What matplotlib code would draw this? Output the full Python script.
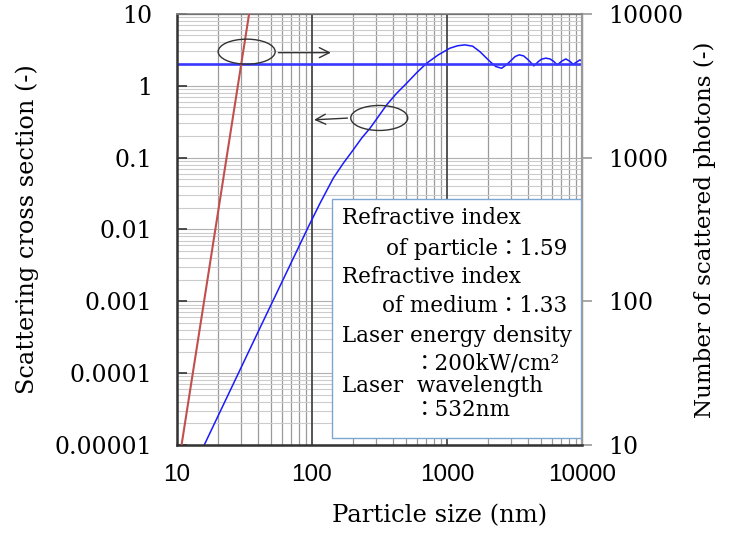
import matplotlib
matplotlib.use('Agg')
import matplotlib.pyplot as plt
from matplotlib.patches import Ellipse, Rectangle, FancyArrowPatch
from matplotlib.transforms import IdentityTransform
from matplotlib.ticker import LogLocator, NullFormatter

# particle size (nm) vs scattering efficiency, left axis
size_nm = [15.9, 41, 94, 114.6, 144, 170.6, 202, 233, 269, 310, 357, 424, 502,
           597, 708, 863, 1052, 1200, 1360, 1550, 1754, 2084, 2300, 2541, 2750,
           2931, 3200, 3436, 3700, 4002, 4406, 4800, 5023, 5400, 5794, 6150,
           6562, 7100, 7600, 8100, 8622, 9200, 9665, 10000]
cross_section = [1e-5, 4.2e-4, 0.0109, 0.0231, 0.052, 0.0834, 0.128, 0.186,
                 0.256, 0.371, 0.54, 0.785, 1.08, 1.52, 2.06, 2.69, 3.33, 3.6,
                 3.70, 3.55, 2.98, 2.17, 1.85, 1.75, 1.95, 2.17, 2.55, 2.69,
                 2.6, 2.29, 1.89, 2.2, 2.34, 2.42, 2.36, 2.2, 1.95, 2.2, 2.36,
                 2.2, 1.99, 2.15, 2.29, 2.2]

# asymptotic value of the cross section
asymptote = 2.0

# number of scattered photons, right axis
photon_size_nm = [10.8, 34.2]
photons = [10, 10000]

left_ticks = [1e-5, 1e-4, 1e-3, 1e-2, 1e-1, 1, 10]
left_labels = ['0.00001', '0.0001', '0.001', '0.01', '0.1', '1', '10']
right_ticks = [10, 100, 1000, 10000]
right_labels = ['10', '100', '1000', '10000']
x_ticks = [10, 100, 1000, 10000]
x_labels = ['10', '100', '1000', '10000']

box_lines = [
    ('Refractive index', 'left'),
    ('of particle\uff1a1.59', 'right'),
    ('Refractive index', 'left'),
    ('of medium\uff1a1.33', 'right'),
    ('Laser energy density', 'left'),
    ('\uff1a200kW/cm\u00b2', 'indent'),
    ('Laser  wavelength', 'left'),
    ('\uff1a532nm', 'indent'),
]

serif = ['DejaVu Serif', 'Noto Sans CJK JP']

fig = plt.figure(figsize=(7.47, 5.33), dpi=100)
ax = fig.add_axes([0.237, 0.165, 0.542, 0.809])
ax2 = ax.twinx()

ax.set_xscale('log')
ax.set_yscale('log')
ax2.set_yscale('log')
ax.set_xlim(10, 10000)
ax.set_ylim(1e-5, 10)
ax2.set_ylim(10, 10000)

ax.yaxis.set_minor_locator(LogLocator(base=10, subs=range(2, 10), numticks=20))
ax.xaxis.set_minor_locator(LogLocator(base=10, subs=range(2, 10), numticks=20))

# grid: light horizontal, gray vertical, dark decade lines on top
ax.grid(True, which='minor', axis='y', color='#cccccc', linewidth=0.8)
ax.grid(True, which='major', axis='y', color='#b0b0b0', linewidth=0.8)
ax.grid(True, which='minor', axis='x', color='#9a9a9a', linewidth=0.9)
ax.set_axisbelow(True)
for t in x_ticks:
    ax.axvline(t, color='#474747', linewidth=1.3, zorder=1)

ax.plot(size_nm, cross_section, color='#1a1aff', linewidth=1.1, zorder=3)
ax.axhline(asymptote, color='#3838ff', linewidth=1.9, zorder=3)
ax2.plot(photon_size_nm, photons, color='#c0504d', linewidth=1.5, zorder=4)

ax.set_yticks(left_ticks)
ax.set_yticklabels(left_labels, family=serif, fontsize=17)
ax.yaxis.set_minor_formatter(NullFormatter())
ax.tick_params(axis='y', which='major', direction='in', length=7, width=1.2,
               color='#333333', pad=18)
ax.tick_params(axis='y', which='minor', length=0)

ax2.set_yticks(right_ticks)
ax2.set_yticklabels(right_labels, family=serif, fontsize=17)
ax2.tick_params(axis='y', which='major', direction='out', length=7, width=1.2,
                color='#999999', pad=12)
ax2.tick_params(axis='y', which='minor', length=0)
ax2.yaxis.set_minor_formatter(NullFormatter())

ax.set_xticks(x_ticks)
ax.set_xticklabels(x_labels, family='Liberation Sans', fontsize=17.5)
ax.tick_params(axis='x', which='both', length=0, pad=14)
ax.xaxis.set_minor_formatter(NullFormatter())

for sp in ['left', 'bottom']:
    ax2.spines[sp].set_color('#333333')
    ax2.spines[sp].set_linewidth(1.8)
ax2.spines['top'].set_color('#888888')
ax2.spines['top'].set_linewidth(1.2)
ax2.spines['right'].set_color('#999999')
ax2.spines['right'].set_linewidth(1.6)

ax.set_xlabel('Particle size (nm)', family=serif, fontsize=17.5)
ax.xaxis.set_label_coords(0.649, -0.163)
ax.xaxis.label.set_va('center')
ax.set_ylabel('Scattering cross section (-)', family=serif, fontsize=17.3)
ax.yaxis.set_label_coords(-0.370, 0.5)
ax.yaxis.label.set_va('center')
ax2.set_ylabel('Number of scattered photons (-)', family=serif, fontsize=16.6)
ax2.yaxis.set_label_coords(1.304, 0.5)
ax2.yaxis.label.set_va('center')

# condition box
ax2.add_patch(Rectangle((0.383, 0.016), 0.615, 0.555, transform=ax2.transAxes,
                        facecolor='white', edgecolor='#7fa6d3', linewidth=1.0,
                        zorder=5))
line_y = [0.527, 0.455, 0.390, 0.3225, 0.253, 0.188, 0.137, 0.081]
for (txt, kind), yy in zip(box_lines, line_y):
    if kind == 'left':
        xx, ha = 0.407, 'left'
    elif kind == 'right':
        xx, ha = 0.965, 'right'
    else:
        xx, ha = 0.585, 'left'
    ax2.text(xx, yy, txt, transform=ax2.transAxes, ha=ha, va='center',
             family=serif, fontsize=15.5, zorder=6)

# ellipses with arrows pointing to the matching axis
fig.canvas.draw()
c1 = ax.transData.transform((32.8, 2.98))
c2 = ax.transData.transform((315, 0.356))
for c in (c1, c2):
    fig.add_artist(Ellipse(c, 57, 25, transform=IdentityTransform(),
                           fill=False, edgecolor='#333333', linewidth=1.0))
fig.add_artist(FancyArrowPatch((c1[0] + 29, c1[1] - 1), (c1[0] + 87, c1[1] - 1),
                               arrowstyle='->', mutation_scale=18,
                               transform=IdentityTransform(),
                               color='#333333', linewidth=1.0))
fig.add_artist(FancyArrowPatch((c2[0] - 29, c2[1]), (c2[0] - 68, c2[1] - 2),
                               arrowstyle='->', mutation_scale=18,
                               transform=IdentityTransform(),
                               color='#333333', linewidth=1.0))

fig.savefig('out.png', dpi=100)
